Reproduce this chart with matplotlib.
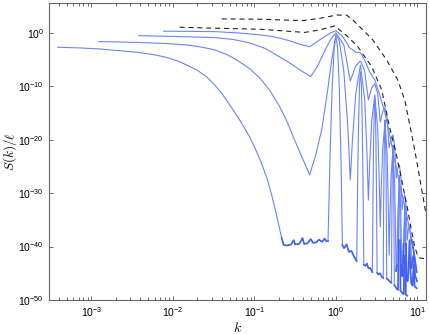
import numpy as np
import matplotlib
matplotlib.use("Agg")
import matplotlib.pyplot as plt
from matplotlib.ticker import LogLocator, NullLocator, FixedLocator

plt.rcParams['font.family'] = ['Liberation Sans', 'DejaVu Sans']
plt.rcParams['mathtext.fontset'] = 'custom'
plt.rcParams['mathtext.rm'] = 'Liberation Sans'
plt.rcParams['mathtext.it'] = 'Liberation Sans:italic'

# values, as log10(k) and log10(S(k)/l)
a_logk = [-3.413, -3.144, -2.9, -2.775, -2.6, -2.45, -2.285, -2.176, -2.076, -1.95, -1.831, -1.70, -1.585, -1.487,
          -1.40, -1.303, -1.18, -1.058, -0.97, -0.898, -0.84, -0.788, -0.73, -0.666, -0.641,
          -0.60, -0.55, -0.518, -0.50, -0.45, -0.41, -0.39, -0.35, -0.31, -0.28, -0.24, -0.21, -0.17, -0.137, -0.12,
          -0.097, -0.071, -0.046, -0.022, 0.0, 0.021, 0.041, 0.061, 0.079,
          0.10, 0.13, 0.16, 0.19, 0.22,
          0.255, 0.267, 0.279, 0.290, 0.301, 0.312, 0.322, 0.332, 0.342,
          0.36, 0.38, 0.40, 0.42,
          0.447, 0.455, 0.462, 0.470, 0.477, 0.484, 0.491, 0.498, 0.505,
          0.52, 0.54, 0.56,
          0.580, 0.585, 0.591, 0.597, 0.602, 0.607, 0.613, 0.618, 0.623,
          0.64, 0.66,
          0.681, 0.686, 0.690, 0.695, 0.699, 0.703, 0.708, 0.712, 0.716,
          0.73, 0.745,
          0.763, 0.767, 0.771, 0.775, 0.778, 0.782, 0.785, 0.789, 0.792,
          0.805, 0.82,
          0.833, 0.836, 0.839, 0.842, 0.845, 0.848, 0.851, 0.854, 0.857,
          0.866, 0.875]
a_logs = [-2.68, -2.81, -3.0, -3.18, -3.4, -3.6, -3.95, -4.25, -4.6, -5.2, -6.0, -7.0, -8.24, -9.74,
          -11.3, -13.48, -16.3, -19.48, -22.3, -25.0, -27.5, -30.34, -34.0, -38.39, -39.70,
          -39.8, -39.6, -38.8, -39.6, -39.5, -38.4, -39.5, -39.4, -38.6, -39.3, -39.2, -38.7, -39.1, -38.5, -39.0,
          -39.0, -22.2, -10.2, -3.0, -0.56, -3.0, -10.2, -22.7, -39.7,
          -40.3, -39.6, -41.0, -40.8, -41.8,
          -42.7, -27.2, -16.2, -9.5, -7.3, -9.5, -16.2, -27.6, -43.4,
          -43.6, -43.2, -44.1, -44.0,
          -44.8, -30.6, -20.4, -14.2, -12.2, -14.2, -20.4, -30.6, -44.9,
          -45.2, -45.0, -45.6,
          -45.9, -33.0, -23.7, -18.2, -16.3, -18.2, -23.7, -33.0, -46.0,
          -46.2, -46.5,
          -46.8, -35.6, -27.5, -22.6, -21.0, -22.6, -27.5, -35.6, -47.2,
          -47.5, -47.9,
          -48.1, -38.8, -32.0, -28.0, -26.6, -28.0, -32.0, -38.8, -48.3,
          -48.5, -48.8,
          -48.9, -41.7, -36.4, -33.3, -32.2, -33.3, -36.4, -41.7, -49.0,
          -49.1, -49.2]

b_logk = [-2.911, -2.64, -2.370, -2.1, -1.831, -1.65, -1.487, -1.33, -1.180, -1.05, -0.935, -0.81, -0.690, -0.60,
          -0.507, -0.41, -0.322, -0.248, -0.175, -0.101, -0.052, 0.0,
          0.041, 0.097, 0.146, 0.176, 0.204, 0.243, 0.301, 0.352, 0.380, 0.398, 0.415, 0.439, 0.477,
          0.512, 0.531, 0.544, 0.556, 0.574, 0.602, 0.628, 0.643, 0.653, 0.663, 0.677, 0.699,
          0.720, 0.732, 0.738, 0.748, 0.760, 0.778, 0.796, 0.806, 0.815, 0.829, 0.845,
          0.860, 0.868, 0.880, 0.889, 0.903, 0.916, 0.925, 0.940, 0.954, 0.966, 0.991]
b_logs = [-1.63, -1.70, -1.82, -1.98, -2.25, -2.65, -3.18, -4.1, -5.43, -6.8, -8.43, -10.8, -13.80, -16.6,
          -20.04, -23.5, -26.59, -22.85, -18.16, -10.67, -5.06, -0.37,
          -1.45, -7.2, -17.6, -27.5, -19.8, -11.4, -6.0, -12.3, -22.2, -31.3, -24.2, -16.5, -11.6,
          -17.8, -27.4, -36.3, -29.2, -21.6, -16.7, -22.9, -32.6, -41.6, -34.5, -26.8, -21.9,
          -28.2, -37.9, -44.6, -43.5, -33.8, -27.5, -33.8, -43.5, -45.6, -39.5, -33.2,
          -39.5, -46.2, -46.5, -45.0, -38.8, -45.0, -47.0, -47.3, -43.4, -47.5, -47.8]

c_logk = [-2.420, -2.17, -1.917, -1.70, -1.487, -1.27, -1.058, -0.87, -0.690, -0.56, -0.444, -0.31,
          -0.225, -0.126, -0.052, 0.0,
          0.097, 0.176, 0.243, 0.301, 0.352, 0.398, 0.439, 0.477, 0.512, 0.544, 0.574, 0.602,
          0.628, 0.653, 0.677, 0.699, 0.720, 0.740, 0.760, 0.778, 0.796, 0.813, 0.829, 0.845,
          0.860, 0.875, 0.889, 0.903, 0.916, 0.929, 0.942, 0.954, 0.973, 0.996]
c_logs = [-0.51, -0.6, -0.69, -0.78, -0.88, -1.2, -1.87, -2.9, -4.49, -5.7, -6.9, -8.18,
          -6.2, -3.0, -0.9, 0.0,
          -2.25, -8.99, -6.18, -5.24, -7.07, -12.55, -10.3, -9.55, -11.3, -16.7, -14.7, -14.0,
          -15.9, -21.5, -19.7, -19.1, -21.1, -27.2, -25.3, -24.7, -26.8, -33.1, -31.0, -30.3,
          -32.4, -38.8, -36.7, -36.0, -38.0, -44.0, -42.2, -41.6, -45.5, -46.5]

d_logk = [-2.113, -1.8, -1.487, -1.2, -0.935, -0.80, -0.690, -0.56, -0.444, -0.322, -0.199, -0.076, 0.0,
          0.083, 0.169, 0.243, 0.301, 0.353, 0.414, 0.477, 0.537, 0.599, 0.660, 0.721, 0.783, 0.844,
          0.893, 0.930, 0.967, 0.991]
d_logs = [0.32, 0.29, 0.24, 0.0, -0.37, -0.62, -0.99, -1.5, -2.12, -2.57, -1.31, -0.06, 0.43,
          -0.69, -2.8, -3.56, -3.75, -5.06, -7.3, -8.8, -11.6, -14.8, -19.1, -23.8, -28.5, -32.2,
          -35.96, -38.76, -42.1, -44.8]

# dashed reference curves
e_logk = [-1.401, -0.935, -0.407, -0.199, 0.010, 0.133, 0.206, 0.353, 0.452, 0.562, 0.623, 0.758, 0.844,
          0.906, 0.955, 1.004, 1.053, 1.114]
e_logs = [2.62, 2.57, 2.30, 2.72, 3.35, 3.31, 2.43, 0.24, -1.31, -3.75, -5.06, -8.80, -12.55,
          -17.23, -20.97, -25.09, -29.40, -34.64]

f_logk = [-1.917, -1.487, -0.935, -0.383, -0.199, -0.015, 0.145, 0.267, 0.439, 0.562, 0.660, 0.734, 0.807,
          0.881, 0.930, 0.967, 1.004, 1.028, 1.114]
f_logs = [1.07, 0.88, 0.69, 0.09, 0.56, 1.31, -0.69, -2.56, -6.31, -10.67, -17.79, -22.28, -27.53,
          -33.15, -37.27, -40.07, -41.76, -42.13, -42.32]

blue = '#6a84ff'
fig = plt.figure(figsize=(4.29, 3.34), dpi=100)
ax = fig.add_axes([49 / 429, 34 / 334, 377 / 429, 297 / 334])

for lk, ls in [(a_logk, a_logs), (b_logk, b_logs), (c_logk, c_logs), (d_logk, d_logs)]:
    k = 10 ** np.array(lk)
    s = 10 ** np.array(ls)
    ax.plot(k, s, color=blue, lw=0.8)
    # the noise floor looks like a thicker, darker band
    ax.plot(k, np.where(s < 1e-38, s, np.nan), color='#4463f2', lw=1.2)

for lk, ls in [(e_logk, e_logs), (f_logk, f_logs)]:
    ax.plot(10 ** np.array(lk), 10 ** np.array(ls), color='#222222', lw=0.8, dashes=(4.5, 3.5))

ax.set_xscale('log')
ax.set_yscale('log')
ax.set_xlim(10 ** -3.52, 10 ** 1.105)
ax.set_ylim(1e-50, 10 ** 5.6)

ax.yaxis.set_major_locator(FixedLocator([10.0 ** p for p in range(-50, 1, 10)]))
ax.yaxis.set_minor_locator(NullLocator())
ax.xaxis.set_major_locator(LogLocator(base=10, numticks=10))
ax.xaxis.set_minor_locator(LogLocator(base=10, subs=np.arange(2, 10), numticks=20))

ax.tick_params(which='both', direction='in', top=True, right=True, colors='#555555',
               labelcolor='black', labelsize=7.5, width=0.6)
ax.tick_params(which='major', length=3)
ax.tick_params(which='minor', length=2)
for sp in ax.spines.values():
    sp.set_color('#666666')
    sp.set_linewidth(0.8)

ax.set_xlabel('$k$', fontsize=10, math_fontfamily='cm', labelpad=2)
ax.set_ylabel('$S(k)/\\ell$', fontsize=9.5, math_fontfamily='cm')
ax.yaxis.set_label_coords(-0.08, 0.5)

fig.savefig('out.png', dpi=100)
